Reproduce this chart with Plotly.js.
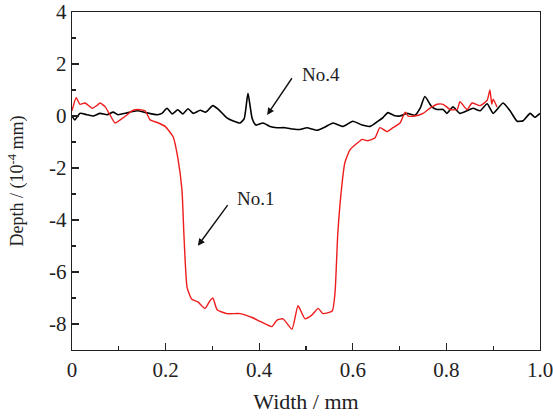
<!DOCTYPE html>
<html>
<head>
<meta charset="utf-8">
<script src="https://cdn.plot.ly/plotly-3.0.1.min.js"></script>
<style>html,body{margin:0;padding:0;background:#fff;}#chart{width:553px;height:416px;}</style>
</head>
<body>
<div id="chart"></div>
<script>
// No.4 (black) profile
const x_no4 = [0.000,0.006,0.017,0.032,0.045,0.060,0.075,0.088,0.098,0.118,0.139,0.160,0.182,0.192,0.203,0.214,0.226,0.237,0.248,0.259,0.274,0.286,0.301,0.316,0.331,0.346,0.359,0.368,0.376,0.385,0.393,0.408,0.423,0.438,0.455,0.472,0.487,0.502,0.524,0.541,0.558,0.579,0.600,0.620,0.637,0.654,0.665,0.675,0.688,0.701,0.716,0.733,0.744,0.754,0.769,0.780,0.793,0.801,0.814,0.829,0.844,0.857,0.872,0.887,0.900,0.921,0.936,0.951,0.964,0.979,0.989,1.000];
const y_no4 = [0.00,-0.15,0.10,0.05,0.00,0.10,0.05,0.15,0.05,0.12,0.20,0.12,0.05,0.10,0.30,0.08,0.24,0.08,0.28,0.10,0.22,0.15,0.40,0.20,-0.07,-0.20,-0.27,-0.10,0.87,-0.10,-0.35,-0.27,-0.40,-0.45,-0.45,-0.50,-0.52,-0.45,-0.55,-0.42,-0.27,-0.40,-0.20,-0.35,-0.40,-0.20,-0.05,0.13,0.02,0.00,0.10,0.03,0.30,0.75,0.35,0.25,0.25,0.10,0.35,0.10,0.20,0.30,0.20,0.47,0.10,0.50,0.20,-0.20,-0.18,0.10,-0.05,0.10];
// No.1 (red) profile
const x_no1 = [0.000,0.009,0.017,0.028,0.043,0.053,0.060,0.071,0.081,0.092,0.103,0.118,0.128,0.141,0.156,0.167,0.182,0.199,0.216,0.226,0.235,0.239,0.246,0.256,0.269,0.284,0.295,0.301,0.310,0.331,0.359,0.385,0.402,0.427,0.438,0.451,0.470,0.483,0.498,0.513,0.526,0.536,0.556,0.562,0.568,0.577,0.583,0.594,0.609,0.620,0.632,0.647,0.658,0.673,0.686,0.701,0.712,0.718,0.733,0.750,0.765,0.780,0.793,0.808,0.823,0.829,0.844,0.855,0.872,0.887,0.893,0.897,0.900,0.908];
const y_no1 = [0.20,0.70,0.45,0.50,0.30,0.40,0.50,0.35,0.05,-0.27,-0.15,0.05,0.20,0.25,0.20,-0.15,-0.25,-0.40,-0.80,-1.60,-2.85,-4.50,-6.60,-7.05,-7.15,-7.40,-7.10,-7.00,-7.45,-7.60,-7.60,-7.75,-7.90,-8.10,-7.85,-7.80,-8.20,-7.30,-7.80,-7.65,-7.40,-7.60,-7.50,-6.80,-4.50,-2.60,-1.80,-1.30,-1.05,-0.90,-0.95,-0.85,-0.45,-0.60,-0.45,-0.27,0.15,0.00,0.00,0.10,0.30,0.45,0.45,0.25,0.25,0.55,0.25,0.50,0.40,0.60,1.00,0.45,0.65,0.35];
const xTickVals = [0,0.2,0.4,0.6,0.8,1.0];
const xTickText = ['0','0.2','0.4','0.6','0.8','1.0'];
const yTickVals = [-8,-6,-4,-2,0,2,4];
const yTickText = ['-8','-6','-4','-2','0','2','4'];
const labels = ['No.4','No.1'];

const fam = '"Liberation Serif", "DejaVu Serif", serif';
const tickFont = {family:fam, color:'#222', size:21};
const xTitleFont = {family:fam, color:'#222', size:22};
const yTitleFont = {family:fam, color:'#222', size:18};
const annFont = {family:fam, color:'#222', size:19};

const traces = [
  {x:x_no4, y:y_no4, mode:'lines', line:{color:'#000', width:1.6, shape:'spline', smoothing:0.5}, showlegend:false, hoverinfo:'skip'},
  {x:x_no1, y:y_no1, mode:'lines', line:{color:'#ee1c1c', width:1.4, shape:'spline', smoothing:0.5}, showlegend:false, hoverinfo:'skip'}
];

const layout = {
  width:553, height:416,
  margin:{l:72, r:13, t:12, b:66},
  paper_bgcolor:'#fff', plot_bgcolor:'#fff',
  font:tickFont,
  xaxis:{
    range:[0,1.0], tickvals:xTickVals, ticktext:xTickText,
    ticks:'inside', ticklen:7, tickwidth:1.2, tickcolor:'#222',
    minor:{dtick:0.1, ticks:'inside', ticklen:4, tickwidth:1.2, tickcolor:'#222', showgrid:false},
    showline:true, linecolor:'#222', linewidth:1.4, mirror:true,
    showgrid:false, zeroline:false, tickfont:tickFont, ticklabeloverflow:'allow',
    title:{text:'Width / mm', font:xTitleFont, standoff:13}
  },
  yaxis:{
    range:[-9,4], tickvals:yTickVals, ticktext:yTickText,
    ticks:'inside', ticklen:7, tickwidth:1.2, tickcolor:'#222',
    minor:{dtick:1, ticks:'inside', ticklen:4, tickwidth:1.2, tickcolor:'#222', showgrid:false},
    showline:true, linecolor:'#222', linewidth:1.4, mirror:true,
    showgrid:false, zeroline:false, tickfont:tickFont, ticklabeloverflow:'allow',
    title:{text:'Depth / (10<sup>-4</sup> mm)', font:yTitleFont, standoff:20}
  },
  annotations:[
    {x:0.417, y:0.04, ax:0.472, ay:1.51, xref:'x', yref:'y', axref:'x', ayref:'y', text:'', showarrow:true, arrowhead:2, arrowsize:1, arrowwidth:1.4, arrowcolor:'#111'},
    {x:0.533, y:1.59, xref:'x', yref:'y', text:labels[0], showarrow:false, font:annFont},
    {x:0.269, y:-4.99, ax:0.335, ay:-3.37, xref:'x', yref:'y', axref:'x', ayref:'y', text:'', showarrow:true, arrowhead:2, arrowsize:1, arrowwidth:1.4, arrowcolor:'#111'},
    {x:0.393, y:-3.17, xref:'x', yref:'y', text:labels[1], showarrow:false, font:annFont}
  ]
};

Plotly.newPlot('chart', traces, layout, {staticPlot:true, displayModeBar:false});
</script>
</body>
</html>
